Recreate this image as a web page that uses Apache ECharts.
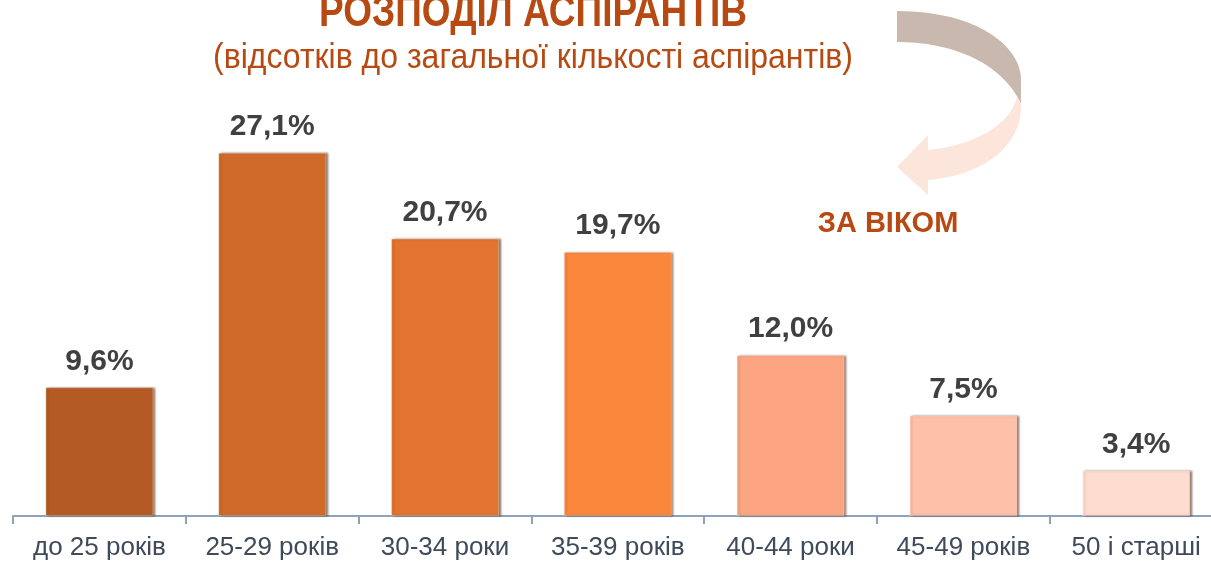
<!DOCTYPE html>
<html>
<head>
<meta charset="utf-8">
<title>Розподіл аспірантів за віком</title>
<script src="https://cdn.jsdelivr.net/npm/echarts@6/dist/echarts.min.js"></script>
<style>
  html, body { margin: 0; padding: 0; background: #fff; }
  #chart { width: 1211px; height: 563px; }
</style>
</head>
<body>
<div id="chart"></div>
<script>
// вікові групи
const categories = ['до 25 років', '25-29 років', '30-34 роки', '35-39 років', '40-44 роки', '45-49 років', '50 і старші']
// частка аспірантів, %
const shares = [9.6, 27.1, 20.7, 19.7, 12.0, 7.5, 3.4]
// кольори стовпців
const barColors = ['#B45B24', '#CF6A2B', '#E2742F', '#FA873C', '#FCA580', '#FFC0AA', '#FFDCD0']

// точки кубічної кривої Безьє (для декоративної стрілки)
const bezier = (p0, p1, p2, p3, n = 24) => {
  const pts = []
  for (let i = 0; i <= n; i++) {
    const t = i / n, u = 1 - t
    pts.push([
      u * u * u * p0[0] + 3 * u * u * t * p1[0] + 3 * u * t * t * p2[0] + t * t * t * p3[0],
      u * u * u * p0[1] + 3 * u * u * t * p1[1] + 3 * u * t * t * p2[1] + t * t * t * p3[1]
    ])
  }
  return pts
}

// верхня (сіра) частина стрілки
const arrowTop = [
  ...bezier([897, 11], [975, 11], [1021, 45], [1021, 80]),
  [1021, 104],
  ...bezier([1021, 104], [1005, 68], [960, 42], [897, 42])
]
// нижня (світла) частина з наконечником
const arrowBottom = [
  ...bezier([1017, 97], [1010, 125], [975, 145], [928, 150]),
  [928, 135], [897, 167], [928, 195],
  ...bezier([928, 180], [985, 175], [1022, 145], [1021, 105])
]

const chart = echarts.init(document.getElementById('chart'))

const option = {
  animation: false,
  grid: { left: 13, top: 114, width: 1209.6, height: 402, outerBoundsMode: 'none', containLabel: false },
  xAxis: {
    type: 'category',
    data: categories,
    axisLine: { lineStyle: { color: '#8EA2BC', width: 2 } },
    axisTick: { show: true, interval: 0, length: 8, lineStyle: { color: '#8EA2BC', width: 2 } },
    axisLabel: {
      interval: 0,
      hideOverlap: false,
      color: '#3F4A5A',
      fontSize: 26,
      fontFamily: 'Liberation Sans, Arial',
      margin: 19
    }
  },
  yAxis: {
    type: 'value',
    min: 0,
    max: 30,
    show: false,
    splitLine: { show: false }
  },
  series: [
    {
      type: 'bar',
      barWidth: '62.5%',
      data: shares.map((v, i) => ({
        value: v,
        itemStyle: { color: barColors[i] }
      })),
      itemStyle: {
        borderColor: 'rgba(255,255,255,0.25)',
        borderWidth: 1,
        shadowColor: 'rgba(70,35,10,0.6)',
        shadowOffsetX: 2,
        shadowBlur: 2
      },
      label: {
        show: true,
        position: 'top',
        distance: 11,
        color: '#404040',
        fontSize: 30,
        fontWeight: 'bold',
        fontFamily: 'Liberation Sans, Arial',
        formatter: p => p.value.toFixed(1).replace('.', ',') + '%'
      }
    }
  ],
  graphic: [
    {
      type: 'text',
      x: 533,
      y: 14,
      scaleY: 1.2,
      style: {
        text: 'РОЗПОДІЛ АСПІРАНТІВ',
        fill: '#B64A12',
        font: 'bold 37px "Liberation Sans", Arial',
        align: 'center',
        verticalAlign: 'middle'
      }
    },
    {
      type: 'text',
      x: 533,
      y: 58,
      scaleY: 1.1,
      style: {
        text: '(відсотків до загальної кількості аспірантів)',
        fill: '#B64A12',
        font: '32px "Liberation Sans", Arial',
        align: 'center',
        verticalAlign: 'middle'
      }
    },
    {
      type: 'polygon',
      shape: { points: arrowTop },
      style: { fill: '#C9B8AE' }
    },
    {
      type: 'polygon',
      shape: { points: arrowBottom },
      style: { fill: '#FCE6DC' }
    },
    {
      type: 'text',
      x: 888,
      y: 224,
      style: {
        text: 'ЗА ВІКОМ',
        fill: '#B64A12',
        font: 'bold 29px "Liberation Sans", Arial',
        align: 'center',
        verticalAlign: 'middle'
      }
    }
  ]
}

chart.setOption(option)
window.addEventListener('resize', () => chart.resize())
</script>
</body>
</html>
